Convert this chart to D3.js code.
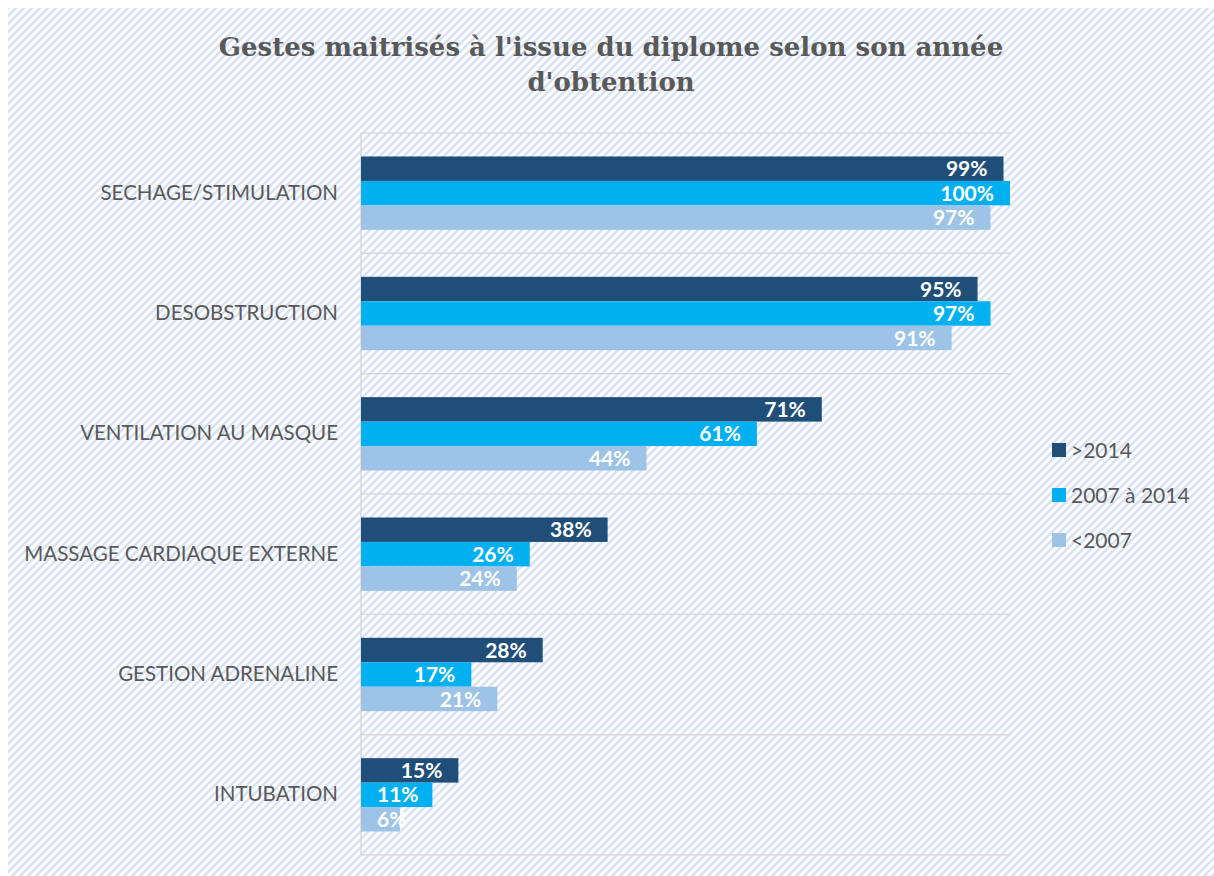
<!DOCTYPE html>
<html><head><meta charset="utf-8">
<script src="https://cdn.jsdelivr.net/npm/d3@7"></script>
<style>body{margin:0;background:#fff;}svg{display:block;}</style>
</head><body>
<svg id="chart" width="1214" height="876"></svg>
<script>
const categories = ["SECHAGE/STIMULATION","DESOBSTRUCTION","VENTILATION AU MASQUE","MASSAGE CARDIAQUE EXTERNE","GESTION ADRENALINE","INTUBATION"];
const seriesNames = [">2014","2007 à 2014","<2007"];
const after2014 = [99,95,71,38,28,15];
const from2007to2014 = [100,97,61,26,17,11];
const before2007 = [97,91,44,24,21,6];
const colors = ["#1f4e79","#00b0f0","#9dc3e6"];
const title = ["Gestes maitrisés à l'issue du diplome selon son année","d'obtention"];

const seriesVals = [after2014, from2007to2014, before2007];
const svg = d3.select("#chart");
const defs = svg.append("defs");
const pat = defs.append("pattern").attr("id","hatch").attr("patternUnits","userSpaceOnUse")
  .attr("width",8).attr("height",8);
pat.append("rect").attr("width",8).attr("height",8).attr("fill","#ffffff");
pat.append("path").attr("d","M-2,2 L2,-2 M0,8 L8,0 M6,10 L10,6").attr("stroke","#d8e2f5").attr("stroke-width",2.5);
svg.append("rect").attr("x",8).attr("y",8).attr("width",1206).attr("height",868).attr("fill","url(#hatch)");

const m = {left:361, right:1010, top:133, bottom:855};
const x = d3.scaleLinear().domain([0,100]).range([m.left, m.right]);
const y = d3.scaleBand().domain(categories).range([m.top, m.bottom]).paddingInner(0).paddingOuter(0);
const inner = d3.scaleBand().domain(seriesNames).range([0, y.bandwidth()]).paddingOuter(0.96).paddingInner(0);

// gridlines at category boundaries
const bounds = categories.map(c => y(c)).concat([m.bottom]);
svg.append("g").selectAll("line").data(bounds).join("line")
  .attr("x1", m.left).attr("x2", m.right).attr("y1", d=>d).attr("y2", d=>d)
  .attr("stroke","#d9d9d9").attr("stroke-width",1.5);
svg.append("line").attr("x1",m.left).attr("x2",m.left).attr("y1",m.top).attr("y2",m.bottom)
  .attr("stroke","#d9d9d9").attr("stroke-width",1.5);

// bars
const pad = 16;
seriesNames.forEach((s,i) => {
  const g = svg.append("g");
  g.selectAll("rect").data(categories).join("rect")
    .attr("x", x(0)).attr("y", c => y(c) + inner(s))
    .attr("width", (c,j) => x(seriesVals[i][j]) - x(0))
    .attr("height", inner.bandwidth()).attr("fill", colors[i]);
  g.selectAll("text").data(categories).join("text")
    .attr("y", c => y(c) + inner(s) + inner.bandwidth()/2)
    .attr("dy","0.36em").attr("text-anchor","start")
    .attr("fill","#fff").attr("font-family","Lato, 'Open Sans', sans-serif")
    .attr("font-weight","bold").attr("font-size",21)
    .text((c,j) => seriesVals[i][j] + "%")
    .each(function(c,j){
      const w = this.getComputedTextLength();
      const xs = Math.max(x(seriesVals[i][j]) - pad - w, x(0) + pad);
      d3.select(this).attr("x", xs);
    });
});

// category axis labels
const yAxis = d3.axisLeft(y).tickSize(0).tickPadding(23);
const ya = svg.append("g").attr("transform",`translate(${m.left},0)`).call(yAxis);
ya.select(".domain").remove();
ya.selectAll("text").attr("font-family","Lato, 'Open Sans', sans-serif").attr("font-size",20.5).attr("fill","#595959");

// title
svg.append("text").attr("x",611).attr("y",56).attr("text-anchor","middle")
  .attr("font-family","'DejaVu Serif', serif").attr("font-weight","bold").attr("font-size",26).attr("fill","#595959")
  .selectAll("tspan").data(title).join("tspan").attr("x",611).attr("dy",(d,i)=> i? 35:0).text(d=>d);

// legend
const lg = svg.append("g").attr("transform","translate(1052,450)");
seriesNames.forEach((s,i) => {
  const r = lg.append("g").attr("transform",`translate(0,${i*45})`);
  r.append("rect").attr("x",0).attr("y",-7).attr("width",14).attr("height",14).attr("fill",colors[i]);
  r.append("text").attr("x",19).attr("y",0).attr("dy","0.36em").attr("font-family","Lato, 'Open Sans', sans-serif")
    .attr("font-size",21).attr("fill","#595959").text(s);
});
</script>
</body></html>
